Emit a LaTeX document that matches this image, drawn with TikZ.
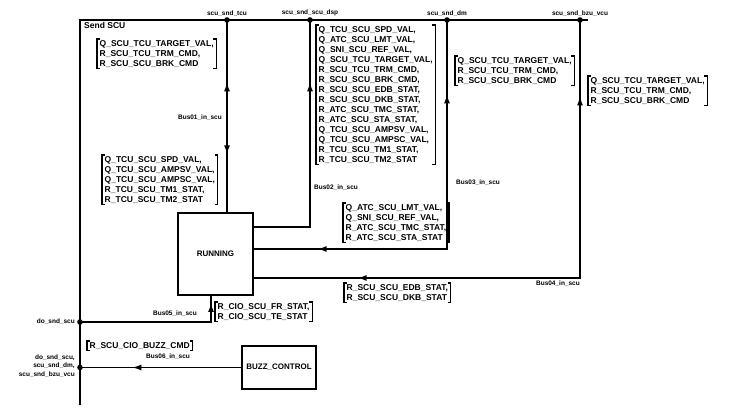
\documentclass[tikz,border=0pt]{standalone}
\usepackage{fontspec}
\setmainfont{Liberation Sans}
\usetikzlibrary{positioning,arrows.meta,decorations.markings}
\newcommand\sigfont{\fontsize{8.5}{10}\selectfont\bfseries}
\newcommand\lblfont{\fontsize{6.5}{8.7}\selectfont\bfseries}
\tikzset{
    bus/.style={line width=1.7pt},
    wire/.style={line width=1.4pt},
    brk/.style={line width=1.2pt},
    sig/.style={font=\sigfont, align=left, inner xsep=2.5pt, inner ysep=1pt, anchor=north west},
    lbl/.style={font=\lblfont, inner sep=1pt},
    blk/.style={draw, line width=1.3pt, font=\fontsize{8}{9}\selectfont\bfseries, inner sep=0pt},
    arr/.style={postaction={decorate, decoration={markings, mark=at position #1 with {\arrow{Latex[length=9pt,width=6pt]}}}}},
    rarr/.style={postaction={decorate, decoration={markings, mark=at position #1 with {\arrowreversed{Latex[length=9pt,width=6pt]}}}}}
}
\begin{document}
\begin{tikzpicture}[x=1pt,y=-1pt]
        \useasboundingbox (0,0) rectangle (755,411);
        % bus
            \coordinate (tl) at (80,20);
            \coordinate (tr) at (588,20);
            \coordinate (bl) at (80,405);
            \coordinate (tcu) at (227,20);
            \coordinate (dsp) at (310,20);
            \coordinate (dm) at (447,20);
            \coordinate (bzu) at (580,20);
            \coordinate (dosnd) at (80,322);
            \coordinate (bzsnd) at (80,367.5);
            \draw[bus] (tr) -- (tl) -- (bl);
            \node[lbl, anchor=north west, font=\sigfont] (title) at (83,21) {Send SCU};
        % blocks
            \node[blk, minimum width=75pt, minimum height=82pt] (run) at (215.5,254) {RUNNING};
            \node[blk, minimum width=74pt, minimum height=43pt] (buzz) at (279,367.5) {BUZZ\_CONTROL};
        % buses in
            \coordinate (b2) at (310,227);
            \coordinate (b3) at (447,249);
            \coordinate (b4) at (580,278);
            \coordinate (b5) at (211,322);
            \draw[wire, arr=130pt, rarr=58pt] (run.north -| tcu) -- (tcu);
            \draw[wire, arr=201pt] (run.east |- b2) -| (dsp);
            \draw[wire, rarr=64pt, arr=348pt] (run.east |- b3) -| (dm);
            \draw[wire, rarr=104pt, arr=508pt] (run.east |- b4) -| (bzu);
            \draw[wire, arr=150pt] (dosnd) -- (b5) -- (b5 |- run.south);
            \draw[wire, arr=109pt] (buzz.west) -- (bzsnd);
            \foreach \p in {tcu,dsp,dm,bzu,dosnd,bzsnd}{
                \fill (\p) circle (2.8pt);
            }
        % labels
            \node[lbl, above=3pt of tcu] (tcuL) {scu\_snd\_tcu};
            \node[lbl, above=3pt of dsp] (dspL) {scu\_snd\_scu\_dsp};
            \node[lbl, above=3pt of dm] (dmL) {scu\_snd\_dm};
            \node[lbl, above=3pt of bzu] (bzuL) {scu\_snd\_bzu\_vcu};
            \node[lbl, anchor=east] (doL) at (76,322) {do\_snd\_scu};
            \node[lbl, anchor=east, align=right] (mixL) at (76,366) {do\_snd\_scu,\\scu\_snd\_dm,\\scu\_snd\_bzu\_vcu};
            \node[lbl, anchor=east] (bus1) at (223,118) {Bus01\_in\_scu};
            \node[lbl, anchor=west] (bus2) at (313,188) {Bus02\_in\_scu};
            \node[lbl, anchor=west] (bus3) at (455,183) {Bus03\_in\_scu};
            \node[lbl, anchor=east] (bus4) at (581,284) {Bus04\_in\_scu};
            \node[lbl, anchor=east] (bus5) at (198,314) {Bus05\_in\_scu};
            \node[lbl] (bus6) at (168,357) {Bus06\_in\_scu};
        % signals
            \node[sig] (l1) at (97,39) {Q\_SCU\_TCU\_TARGET\_VAL,\\R\_SCU\_TCU\_TRM\_CMD,\\R\_SCU\_SCU\_BRK\_CMD};
            \node[sig] (l2) at (102,155) {Q\_TCU\_SCU\_SPD\_VAL,\\Q\_TCU\_SCU\_AMPSV\_VAL,\\Q\_TCU\_SCU\_AMPSC\_VAL,\\R\_TCU\_SCU\_TM1\_STAT,\\R\_TCU\_SCU\_TM2\_STAT};
            \node[sig] (l3) at (316,25) {Q\_TCU\_SCU\_SPD\_VAL,\\Q\_ATC\_SCU\_LMT\_VAL,\\Q\_SNI\_SCU\_REF\_VAL,\\Q\_SCU\_TCU\_TARGET\_VAL,\\R\_SCU\_TCU\_TRM\_CMD,\\R\_SCU\_SCU\_BRK\_CMD,\\R\_SCU\_SCU\_EDB\_STAT,\\R\_SCU\_SCU\_DKB\_STAT,\\R\_ATC\_SCU\_TMC\_STAT,\\R\_ATC\_SCU\_STA\_STAT,\\Q\_TCU\_SCU\_AMPSV\_VAL,\\Q\_TCU\_SCU\_AMPSC\_VAL,\\R\_TCU\_SCU\_TM1\_STAT,\\R\_TCU\_SCU\_TM2\_STAT};
            \node[sig] (l4) at (455,56) {Q\_SCU\_TCU\_TARGET\_VAL,\\R\_SCU\_TCU\_TRM\_CMD,\\R\_SCU\_SCU\_BRK\_CMD};
            \node[sig] (l5) at (588,76) {Q\_SCU\_TCU\_TARGET\_VAL,\\R\_SCU\_TCU\_TRM\_CMD,\\R\_SCU\_SCU\_BRK\_CMD};
            \node[sig] (l6) at (343,203) {Q\_ATC\_SCU\_LMT\_VAL,\\Q\_SNI\_SCU\_REF\_VAL,\\R\_ATC\_SCU\_TMC\_STAT,\\R\_ATC\_SCU\_STA\_STAT};
            \node[sig] (l7) at (344,283) {R\_SCU\_SCU\_EDB\_STAT,\\R\_SCU\_SCU\_DKB\_STAT};
            \node[sig] (l8) at (215,302) {R\_CIO\_SCU\_FR\_STAT,\\R\_CIO\_SCU\_TE\_STAT};
            \node[sig] (l9) at (87,341) {R\_SCU\_CIO\_BUZZ\_CMD};
            \foreach \n in {l1,l2,l3,l4,l5,l6,l7,l8,l9}{
                \draw[brk] ([xshift=3pt]\n.north west) -- (\n.north west) -- (\n.south west) -- ([xshift=3pt]\n.south west);
                \draw[brk] ([xshift=-3pt]\n.north east) -- (\n.north east) -- (\n.south east) -- ([xshift=-3pt]\n.south east);
            }
        \end{tikzpicture}
\end{document}
